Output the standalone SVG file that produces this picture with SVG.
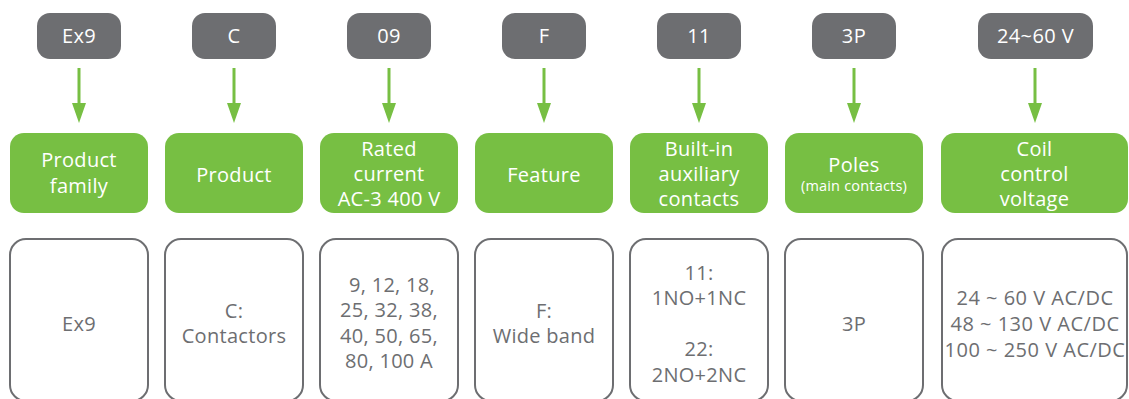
<svg xmlns="http://www.w3.org/2000/svg" width="1129" height="399" viewBox="0 0 1129 399">
<style>
.code{fill:#6d6e71}
.codet{fill:#ffffff;font-family:"Open Sans","Liberation Sans",sans-serif;font-size:20px;letter-spacing:0.4px;text-anchor:middle}
.cat{fill:#77bf43}
.catt{fill:#ffffff;font-family:"Open Sans","Liberation Sans",sans-serif;font-size:20px;letter-spacing:0.3px;text-anchor:middle}
.small{font-size:14.5px;letter-spacing:0.2px}
.val{fill:#ffffff;stroke:#6d6e71;stroke-width:2}
.valt{fill:#6d6e71;font-family:"Open Sans","Liberation Sans",sans-serif;font-size:20px;letter-spacing:0.3px;text-anchor:middle}
.volt{letter-spacing:0.5px}
.conn{stroke:#77bf43;stroke-width:3;fill:none}
.head{fill:#77bf43}
</style>
<g id="connectors">
<line class="conn" x1="79" y1="68" x2="79" y2="104"/><path class="head" d="M72,103 L86,103 L79,123 Z"/>
<line class="conn" x1="234" y1="68" x2="234" y2="104"/><path class="head" d="M227,103 L241,103 L234,123 Z"/>
<line class="conn" x1="389" y1="68" x2="389" y2="104"/><path class="head" d="M382,103 L396,103 L389,123 Z"/>
<line class="conn" x1="544" y1="68" x2="544" y2="104"/><path class="head" d="M537,103 L551,103 L544,123 Z"/>
<line class="conn" x1="699" y1="68" x2="699" y2="104"/><path class="head" d="M692,103 L706,103 L699,123 Z"/>
<line class="conn" x1="854" y1="68" x2="854" y2="104"/><path class="head" d="M847,103 L861,103 L854,123 Z"/>
<line class="conn" x1="1035" y1="68" x2="1035" y2="104"/><path class="head" d="M1028,103 L1042,103 L1035,123 Z"/>
</g>
<g id="code-ex9"><rect class="code" x="37" y="13" width="84" height="46" rx="13"/><text class="codet" x="79" y="43">Ex9</text></g>
<g id="code-c"><rect class="code" x="192" y="13" width="84" height="46" rx="13"/><text class="codet" x="234" y="43">C</text></g>
<g id="code-09"><rect class="code" x="347" y="13" width="84" height="46" rx="13"/><text class="codet" x="389" y="43">09</text></g>
<g id="code-f"><rect class="code" x="502" y="13" width="84" height="46" rx="13"/><text class="codet" x="544" y="43">F</text></g>
<g id="code-11"><rect class="code" x="657" y="13" width="84" height="46" rx="13"/><text class="codet" x="699" y="43">11</text></g>
<g id="code-3p"><rect class="code" x="812" y="13" width="84" height="46" rx="13"/><text class="codet" x="854" y="43">3P</text></g>
<g id="code-voltage"><rect class="code" x="978" y="13" width="115" height="46" rx="13"/><text class="codet" x="1035.5" y="43">24~60 V</text></g>

<g id="cat-family"><rect class="cat" x="10" y="133" width="138" height="80" rx="14"/><text class="catt" x="79" y="167">Product</text><text class="catt" x="79" y="193">family</text></g>
<g id="cat-product"><rect class="cat" x="165" y="133" width="138" height="80" rx="14"/><text class="catt" x="234" y="182">Product</text></g>
<g id="cat-current"><rect class="cat" x="320" y="133" width="138" height="80" rx="14"/><text class="catt" x="389" y="156">Rated</text><text class="catt" x="389" y="181">current</text><text class="catt" x="389" y="206">AC-3 400 V</text></g>
<g id="cat-feature"><rect class="cat" x="475" y="133" width="138" height="80" rx="14"/><text class="catt" x="544" y="182">Feature</text></g>
<g id="cat-aux"><rect class="cat" x="630" y="133" width="138" height="80" rx="14"/><text class="catt" x="699" y="156">Built-in</text><text class="catt" x="699" y="181">auxiliary</text><text class="catt" x="699" y="206">contacts</text></g>
<g id="cat-poles"><rect class="cat" x="785" y="133" width="138" height="80" rx="14"/><text class="catt" x="854" y="172">Poles</text><text class="catt small" x="854" y="191">(main contacts)</text></g>
<g id="cat-coil"><rect class="cat" x="941" y="133" width="187" height="80" rx="14"/><text class="catt" x="1034.5" y="156">Coil</text><text class="catt" x="1034.5" y="181">control</text><text class="catt" x="1034.5" y="206">voltage</text></g>

<g id="val-family"><rect class="val" x="10" y="239" width="138" height="162" rx="16"/><text class="valt" x="79" y="331">Ex9</text></g>
<g id="val-product"><rect class="val" x="165" y="239" width="138" height="162" rx="16"/><text class="valt" x="234" y="318">C:</text><text class="valt" x="234" y="343">Contactors</text></g>
<g id="val-current"><rect class="val" x="320" y="239" width="138" height="162" rx="16"/><text class="valt" x="392" y="292">9, 12, 18,</text><text class="valt" x="389" y="317">25, 32, 38,</text><text class="valt" x="389" y="343">40, 50, 65,</text><text class="valt" x="389" y="368">80, 100 A</text></g>
<g id="val-feature"><rect class="val" x="475" y="239" width="138" height="162" rx="16"/><text class="valt" x="544" y="318">F:</text><text class="valt" x="544" y="343">Wide band</text></g>
<g id="val-aux"><rect class="val" x="630" y="239" width="138" height="162" rx="16"/><text class="valt" x="699" y="280">11:</text><text class="valt" x="699" y="305">1NO+1NC</text><text class="valt" x="699" y="356">22:</text><text class="valt" x="699" y="382">2NO+2NC</text></g>
<g id="val-poles"><rect class="val" x="785" y="239" width="138" height="162" rx="16"/><text class="valt" x="854" y="331">3P</text></g>
<g id="val-coil"><rect class="val" x="942" y="239" width="185" height="162" rx="16"/><text class="valt volt" x="1035" y="305">24 ~ 60 V AC/DC</text><text class="valt volt" x="1035" y="331">48 ~ 130 V AC/DC</text><text class="valt volt" x="1035" y="357">100 ~ 250 V AC/DC</text></g>
</svg>
